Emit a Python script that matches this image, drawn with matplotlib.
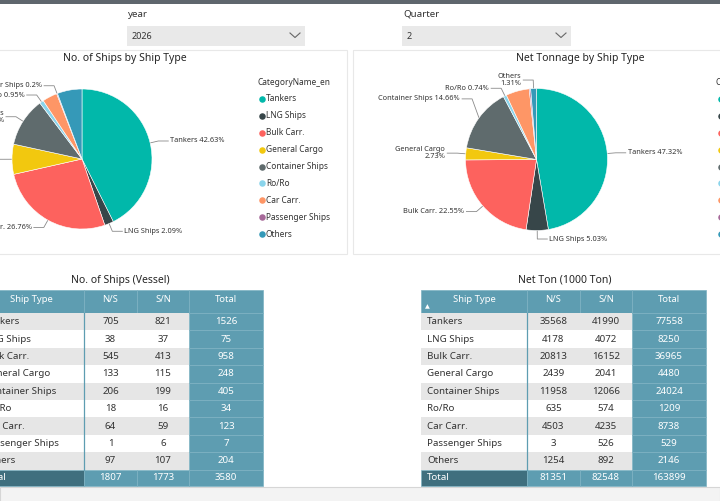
import numpy as np
import matplotlib
matplotlib.use("Agg")
import matplotlib.pyplot as plt
from matplotlib.patches import Rectangle

plt.rcParams['font.family'] = ['Noto Sans', 'DejaVu Sans']

# data
ship_types = ["Tankers", "LNG Ships", "Bulk Carr.", "General Cargo", "Container Ships",
              "Ro/Ro", "Car Carr.", "Passenger Ships", "Others"]
ships_ns = [705, 38, 545, 133, 206, 18, 64, 1, 97]
ships_sn = [821, 37, 413, 115, 199, 16, 59, 6, 107]
ton_ns = [35568, 4178, 20813, 2439, 11958, 635, 4503, 3, 1254]
ton_sn = [41990, 4072, 16152, 2041, 12066, 574, 4235, 526, 892]
colors = ["#01B8AA", "#374649", "#FD625E", "#F2C80F", "#5F6B6D",
          "#8AD4EB", "#FE9666", "#A66999", "#3599B8"]
year_sel = "2026"
quarter_sel = "2"

W, H = 720, 501
fig = plt.figure(figsize=(W / 100, H / 100), dpi=100)
bg = fig.add_axes([0, 0, 1, 1])
bg.set_xlim(0, W)
bg.set_ylim(H, 0)
bg.axis('off')

# page chrome
bg.add_patch(Rectangle((0, 0), W, 4, color="#5f666d", lw=0))
bg.add_patch(Rectangle((0, 487), W, 20, facecolor="#f3f3f3", edgecolor="#d6d6d6", lw=0.8))
bg.add_patch(Rectangle((-2, 50), 349, 204, facecolor="none", edgecolor="#e8e8e8", lw=0.8))
bg.add_patch(Rectangle((353, 50), 380, 204, facecolor="none", edgecolor="#e8e8e8", lw=0.8))


def slicer(x, label, value, width):
    bg.text(x + 1, 14, label, fontsize=7, va='center', color="#333333")
    bg.add_patch(Rectangle((x, 26), width, 20, facecolor="#e9e9e9", lw=0))
    bg.text(x + 5, 36.5, value, fontsize=6.5, va='center', color="#333333")
    cx = x + width - 10
    bg.plot([cx - 5, cx, cx + 5], [33, 37.5, 33], color="#666666", lw=0.8)


slicer(127, "year", year_sel, 178)
slicer(402, "Quarter", quarter_sel, 169)


def fmt_pct(p):
    return f"{p:.2f}".rstrip('0').rstrip('.') + "%"


def pie_chart(values, cx, cy, r, title, title_x, shown, two_line, nudge):
    half = 130
    pax = fig.add_axes([(cx - half) / W, 1 - (cy + half) / H, 2 * half / W, 2 * half / H])
    wedges, _ = pax.pie(values, colors=colors, startangle=90, counterclock=False,
                        wedgeprops=dict(edgecolor="white", linewidth=0.4))
    pax.set_xlim(-half / r, half / r)
    pax.set_ylim(-half / r, half / r)
    pax.set_aspect('equal')
    pax.axis('off')
    bg.text(title_x, 58, title, fontsize=7.5, ha='center', va='center', color="#252525")
    total = sum(values)
    for w, name, v in zip(wedges, ship_types, values):
        if name not in shown:
            continue
        th = np.deg2rad((w.theta1 + w.theta2) / 2)
        c, s = np.cos(th), np.sin(th)
        x0, y0 = cx + r * c, cy - r * s
        x1, y1 = cx + 1.12 * r * c, cy - 1.12 * r * s + nudge.get(name, 0)
        side = 1 if c >= 0 else -1
        x2 = x1 + side * 10
        bg.plot([x0, x1, x2], [y0, y1, y1], color="#8a8a8a", lw=0.6)
        sep = "\n" if name in two_line else " "
        txt = name + sep + fmt_pct(100 * v / total)
        bg.text(x2 + side * 2, y1, txt, fontsize=5.3, ha='left' if side > 0 else 'right',
                va='center', color="#333333", linespacing=1.0,
                multialignment='right' if side < 0 else 'left')


def legend(x, y):
    bg.text(x - 5, y, "CategoryName_en", fontsize=6, va='center', color="#333333")
    for i, (name, col) in enumerate(zip(ship_types, colors)):
        yy = y + 16.9 * (i + 1)
        bg.scatter([x], [yy], s=22, color=col, lw=0)
        bg.text(x + 4, yy, name, fontsize=6, va='center', color="#333333")


ships_tot = [a + b for a, b in zip(ships_ns, ships_sn)]
ton_tot = [a + b for a, b in zip(ton_ns, ton_sn)]

pie_chart(ships_tot, 82, 159, 70, "No. of Ships by Ship Type", 125,
          ["Tankers", "LNG Ships", "Bulk Carr.", "General Cargo", "Container Ships",
           "Ro/Ro", "Passenger Ships"], ["Container Ships"], {})
pie_chart(ton_tot, 536.5, 159.5, 71, "Net Tonnage by Ship Type", 580,
          ["Tankers", "LNG Ships", "Bulk Carr.", "General Cargo", "Container Ships",
           "Ro/Ro", "Others"], ["General Cargo", "Others"], {"Container Ships": -14})
legend(262, 82)
legend(721, 82)

# tables
HEAD = "#5e9db1"
TOTAL_DARK = "#3f6f7e"
STRIPE = "#e6e6e6"
col_w = [106, 53, 52, 74]
head_top, head_bot, row_h = 290, 313, 17.4


def table(x0, title, title_x, ns, sn, sort_arrow):
    bg.text(title_x, 280, title, fontsize=7.5, ha='center', va='center', color="#252525")
    xs = np.concatenate([[x0], x0 + np.cumsum(col_w)])
    tot = [a + b for a, b in zip(ns, sn)]
    heads = ["Ship Type", "N/S", "S/N", "Total"]
    for j, h in enumerate(heads):
        bg.add_patch(Rectangle((xs[j], head_top), col_w[j], head_bot - head_top,
                               facecolor=HEAD, edgecolor="#7db2c2", lw=0.5))
        bg.text((xs[j] + xs[j + 1]) / 2, head_top + 9, h, fontsize=6.8, ha='center',
                va='center', color="white", fontweight='bold')
    if sort_arrow:
        bg.text(xs[0] + 6, head_top + 16.5, "▲", fontsize=4.5, ha='center', va='center',
                color="white")
    rows = [(n, a, b, t) for n, a, b, t in zip(ship_types, ns, sn, tot)]
    rows.append(("Total", sum(ns), sum(sn), sum(tot)))
    for i, row in enumerate(rows):
        y = head_bot + i * row_h
        is_total = i == len(rows) - 1
        h = 16 if is_total else row_h
        if not is_total:
            # one band per row so there are no seams between cells
            bg.add_patch(Rectangle((xs[0], y), xs[3] - xs[0], h,
                                   facecolor=STRIPE if i % 2 == 0 else "white", lw=0))
        for j, val in enumerate(row):
            if is_total:
                fc = TOTAL_DARK if j == 0 else HEAD
            else:
                fc = HEAD
            if j == 3 or is_total:
                bg.add_patch(Rectangle((xs[j], y), col_w[j], h, facecolor=fc,
                                       edgecolor="#7db2c2", lw=0.5))
            white = is_total or j == 3
            if j == 0:
                bg.text(xs[0] + 6, y + h / 2, str(val), fontsize=7, va='center',
                        color="white" if white else "#333333",
                        fontweight='bold' if white else 'normal')
            else:
                bg.text((xs[j] + xs[j + 1]) / 2, y + h / 2, str(val), fontsize=7,
                        ha='center', va='center', color="white" if white else "#333333",
                        fontweight='bold' if white else 'normal')
    bg.plot([xs[1], xs[1]], [head_bot, head_bot + (len(rows) - 1) * row_h],
            color="#5e9db1", lw=0.9)


table(-22, "No. of Ships (Vessel)", 120, ships_ns, ships_sn, False)
table(421, "Net Ton (1000 Ton)", 565, ton_ns, ton_sn, True)

fig.savefig("out.png", dpi=100, facecolor="white")
